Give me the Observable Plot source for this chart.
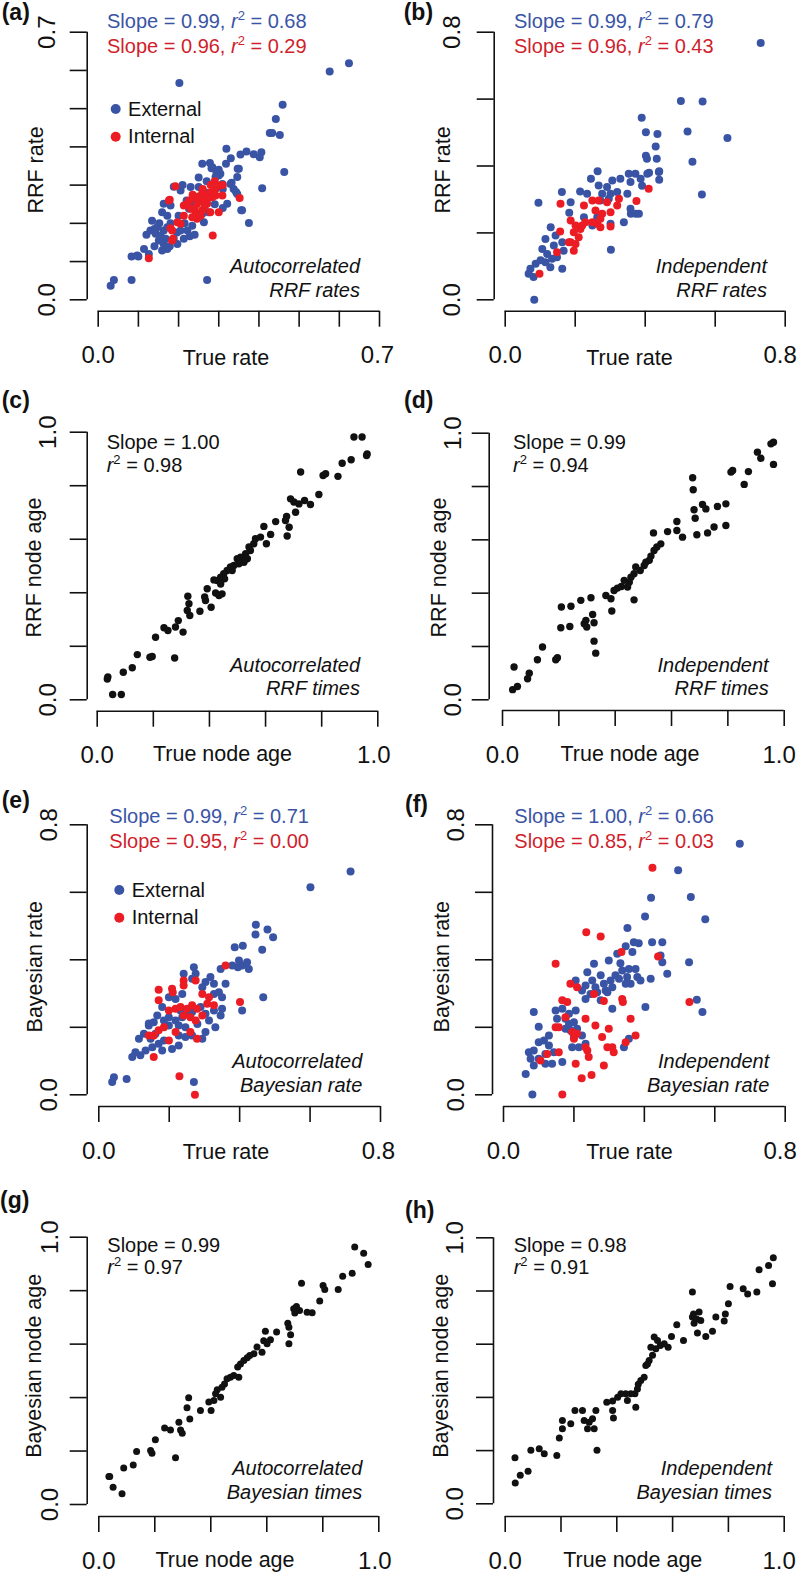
<!DOCTYPE html>
<html><head><meta charset="utf-8">
<script src="https://cdn.jsdelivr.net/npm/d3@7"></script>
<script src="https://cdn.jsdelivr.net/npm/@observablehq/plot@0.6"></script>
<style>
body{margin:0;background:#fff;}
#root{position:relative;width:797px;height:1573px;overflow:hidden;background:#fff;}
</style></head><body><div id="root"></div>
<script>
const FONT = '"Liberation Sans", Arial, Helvetica, sans-serif';
const BLUE = "#3a54a5", RED = "#ec1c24", RED_TXT = "#cf1f2d", INK = "#111";

// ---------- tick values ----------
const ticks07 = [0, 0.1, 0.2, 0.3, 0.4, 0.5, 0.6, 0.7];
const ticks08 = [0, 0.2, 0.4, 0.6, 0.8];
const ticks10 = [0, 0.2, 0.4, 0.6, 0.8, 1.0];

// ---------- (a) Autocorrelated RRF rates ----------
const aExt = [[0.202,0.567],[0.576,0.597],[0.624,0.619],[0.459,0.510],[0.442,0.473],[0.427,0.436],[0.433,0.436],[0.452,0.431],[0.319,0.395],[0.369,0.388],[0.354,0.380],[0.387,0.381],[0.406,0.386],[0.402,0.373],[0.259,0.356],[0.278,0.358],[0.318,0.356],[0.347,0.343],[0.282,0.344],[0.463,0.334],[0.294,0.334],[0.304,0.330],[0.292,0.321],[0.346,0.321],[0.332,0.306],[0.408,0.292],[0.343,0.282],[0.356,0.234],[0.375,0.201],[0.321,0.251],[0.271,0.052],[0.039,0.052],[0.031,0.037],[0.083,0.052],[0.114,0.133],[0.083,0.113],[0.100,0.113],[0.284,0.347],[0.350,0.343],[0.300,0.325],[0.309,0.303],[0.329,0.303],[0.337,0.290],[0.346,0.277],[0.358,0.234],[0.188,0.296],[0.205,0.286],[0.230,0.295],[0.250,0.295],[0.163,0.251],[0.180,0.247],[0.159,0.229],[0.172,0.220],[0.134,0.207],[0.147,0.190],[0.130,0.181],[0.143,0.173],[0.155,0.168],[0.163,0.181],[0.172,0.190],[0.151,0.155],[0.163,0.146],[0.172,0.133],[0.159,0.129],[0.188,0.160],[0.197,0.146],[0.213,0.160],[0.205,0.181],[0.222,0.181],[0.234,0.194],[0.246,0.216],[0.259,0.225],[0.275,0.229],[0.263,0.203],[0.097,0.116],[0.126,0.120],[0.226,0.238],[0.238,0.251],[0.220,0.260],[0.270,0.310],[0.250,0.320],[0.210,0.300],[0.290,0.250],[0.310,0.290],[0.330,0.370],[0.300,0.340],[0.260,0.260],[0.200,0.220],[0.180,0.200],[0.240,0.170],[0.140,0.140],[0.120,0.170],[0.310,0.240],[0.270,0.280],[0.152,0.200],[0.140,0.185],[0.168,0.160],[0.178,0.140],[0.215,0.200],[0.228,0.166],[0.196,0.176]];
const aInt = [[0.126,0.109],[0.186,0.160],[0.180,0.187],[0.178,0.262],[0.192,0.297],[0.197,0.203],[0.205,0.199],[0.285,0.168],[0.352,0.266],[0.213,0.247],[0.226,0.260],[0.238,0.268],[0.246,0.251],[0.255,0.260],[0.267,0.273],[0.279,0.281],[0.292,0.290],[0.304,0.299],[0.292,0.273],[0.271,0.251],[0.259,0.234],[0.242,0.229],[0.230,0.238],[0.246,0.212],[0.279,0.229],[0.300,0.229],[0.309,0.273],[0.259,0.281],[0.284,0.268],[0.176,0.260],[0.213,0.220],[0.234,0.216],[0.260,0.290],[0.250,0.270],[0.270,0.260],[0.240,0.240],[0.220,0.250],[0.290,0.310],[0.310,0.300],[0.280,0.300],[0.265,0.245],[0.255,0.220],[0.235,0.275],[0.184,0.181],[0.184,0.155]];

// ---------- (b) Independent RRF rates ----------
const bExt = [[0.730,0.768],[0.502,0.594],[0.564,0.593],[0.390,0.544],[0.521,0.503],[0.635,0.484],[0.402,0.501],[0.435,0.496],[0.430,0.458],[0.402,0.431],[0.405,0.422],[0.433,0.422],[0.535,0.413],[0.562,0.315],[0.440,0.384],[0.440,0.359],[0.411,0.380],[0.264,0.384],[0.245,0.362],[0.162,0.322],[0.214,0.324],[0.095,0.290],[0.130,0.217],[0.183,0.260],[0.302,0.150],[0.083,0.000],[0.359,0.257],[0.373,0.257],[0.306,0.357],[0.329,0.362],[0.353,0.377],[0.372,0.377],[0.387,0.362],[0.406,0.377],[0.439,0.382],[0.358,0.352],[0.391,0.341],[0.267,0.342],[0.291,0.337],[0.277,0.317],[0.301,0.317],[0.320,0.322],[0.349,0.317],[0.272,0.297],[0.296,0.302],[0.187,0.292],[0.358,0.272],[0.382,0.257],[0.339,0.232],[0.301,0.227],[0.115,0.182],[0.139,0.162],[0.106,0.152],[0.120,0.137],[0.134,0.123],[0.101,0.118],[0.087,0.108],[0.072,0.093],[0.067,0.078],[0.081,0.068],[0.115,0.112],[0.129,0.097],[0.148,0.127],[0.163,0.093],[0.167,0.147],[0.144,0.192],[0.163,0.172],[0.225,0.247],[0.249,0.222],[0.263,0.247],[0.234,0.317]];
const bInt = [[0.158,0.287],[0.410,0.332],[0.375,0.295],[0.225,0.282],[0.249,0.297],[0.267,0.297],[0.291,0.292],[0.325,0.302],[0.320,0.282],[0.258,0.267],[0.277,0.257],[0.301,0.262],[0.272,0.242],[0.263,0.227],[0.249,0.232],[0.301,0.219],[0.187,0.237],[0.201,0.222],[0.215,0.212],[0.196,0.202],[0.210,0.187],[0.187,0.172],[0.201,0.167],[0.220,0.222],[0.229,0.232],[0.157,0.204],[0.148,0.142],[0.182,0.172],[0.196,0.147],[0.098,0.078],[0.272,0.217]];

// ---------- (c) Autocorrelated RRF times ----------
const cPts = [[0.915,0.982],[0.944,0.982],[0.962,0.919],[0.960,0.913],[0.905,0.897],[0.873,0.884],[0.805,0.838],[0.814,0.845],[0.858,0.835],[0.725,0.851],[0.790,0.767],[0.760,0.730],[0.689,0.751],[0.701,0.739],[0.719,0.732],[0.707,0.701],[0.739,0.745],[0.675,0.685],[0.671,0.670],[0.684,0.645],[0.677,0.612],[0.636,0.666],[0.594,0.648],[0.618,0.618],[0.603,0.583],[0.582,0.608],[0.564,0.602],[0.558,0.583],[0.541,0.571],[0.546,0.558],[0.529,0.546],[0.511,0.533],[0.499,0.527],[0.535,0.527],[0.523,0.514],[0.505,0.508],[0.487,0.502],[0.475,0.496],[0.481,0.483],[0.463,0.483],[0.451,0.471],[0.440,0.458],[0.428,0.446],[0.416,0.448],[0.454,0.452],[0.440,0.433],[0.392,0.415],[0.422,0.399],[0.445,0.396],[0.434,0.390],[0.383,0.384],[0.386,0.371],[0.406,0.346],[0.323,0.387],[0.327,0.359],[0.321,0.334],[0.330,0.315],[0.366,0.331],[0.289,0.296],[0.238,0.269],[0.252,0.259],[0.279,0.272],[0.306,0.253],[0.208,0.234],[0.188,0.159],[0.196,0.162],[0.143,0.169],[0.276,0.156],[0.125,0.120],[0.093,0.103],[0.038,0.085],[0.036,0.078],[0.055,0.020],[0.086,0.020]];

// ---------- (d) Independent RRF times ----------
const dPts = [[0.962,0.966],[0.953,0.960],[0.905,0.929],[0.917,0.906],[0.962,0.883],[0.811,0.854],[0.817,0.860],[0.873,0.856],[0.858,0.808],[0.675,0.833],[0.677,0.788],[0.680,0.713],[0.710,0.733],[0.722,0.716],[0.684,0.681],[0.763,0.725],[0.793,0.735],[0.793,0.654],[0.751,0.648],[0.728,0.626],[0.690,0.619],[0.619,0.669],[0.586,0.631],[0.619,0.635],[0.639,0.610],[0.536,0.626],[0.562,0.585],[0.548,0.573],[0.538,0.560],[0.527,0.539],[0.521,0.523],[0.509,0.516],[0.503,0.504],[0.489,0.485],[0.473,0.498],[0.467,0.473],[0.456,0.460],[0.450,0.441],[0.432,0.448],[0.422,0.425],[0.444,0.423],[0.467,0.375],[0.408,0.419],[0.396,0.410],[0.385,0.379],[0.367,0.391],[0.388,0.333],[0.325,0.289],[0.296,0.298],[0.290,0.285],[0.299,0.273],[0.278,0.373],[0.243,0.351],[0.209,0.348],[0.207,0.270],[0.239,0.275],[0.314,0.383],[0.320,0.320],[0.325,0.220],[0.331,0.175],[0.142,0.198],[0.124,0.150],[0.189,0.150],[0.195,0.158],[0.095,0.100],[0.089,0.079],[0.041,0.123],[0.036,0.038],[0.053,0.050]];

// ---------- (e) Autocorrelated Bayesian rate ----------
const eExt = [[0.715,0.662],[0.601,0.615],[0.446,0.504],[0.479,0.490],[0.445,0.475],[0.495,0.467],[0.464,0.430],[0.467,0.289],[0.386,0.437],[0.409,0.442],[0.421,0.393],[0.395,0.378],[0.346,0.373],[0.270,0.038],[0.038,0.038],[0.043,0.052],[0.079,0.047],[0.270,0.378],[0.275,0.359],[0.241,0.359],[0.265,0.344],[0.317,0.349],[0.303,0.334],[0.294,0.319],[0.327,0.329],[0.360,0.329],[0.341,0.304],[0.350,0.289],[0.327,0.299],[0.237,0.299],[0.218,0.284],[0.199,0.289],[0.180,0.260],[0.166,0.235],[0.156,0.215],[0.142,0.205],[0.199,0.230],[0.218,0.220],[0.237,0.230],[0.265,0.245],[0.303,0.240],[0.327,0.250],[0.350,0.255],[0.346,0.235],[0.331,0.200],[0.313,0.220],[0.280,0.210],[0.246,0.200],[0.227,0.205],[0.199,0.205],[0.185,0.220],[0.114,0.166],[0.128,0.181],[0.147,0.166],[0.170,0.151],[0.152,0.141],[0.133,0.131],[0.104,0.126],[0.095,0.112],[0.118,0.117],[0.180,0.131],[0.208,0.136],[0.227,0.146],[0.246,0.171],[0.265,0.176],[0.303,0.186],[0.294,0.166],[0.407,0.250],[0.398,0.398],[0.407,0.383],[0.426,0.373],[0.379,0.383],[0.227,0.176],[0.289,0.260],[0.256,0.240],[0.232,0.250],[0.185,0.161],[0.161,0.181],[0.142,0.211]];
const eInt = [[0.273,0.000],[0.229,0.055],[0.401,0.275],[0.360,0.383],[0.170,0.311],[0.170,0.280],[0.208,0.314],[0.241,0.339],[0.275,0.339],[0.241,0.324],[0.294,0.299],[0.313,0.289],[0.308,0.270],[0.327,0.265],[0.199,0.250],[0.218,0.255],[0.232,0.260],[0.251,0.255],[0.265,0.265],[0.279,0.255],[0.241,0.235],[0.260,0.230],[0.275,0.220],[0.294,0.235],[0.170,0.191],[0.156,0.176],[0.142,0.176],[0.185,0.200],[0.218,0.186],[0.260,0.186],[0.279,0.166],[0.199,0.161],[0.156,0.112],[0.210,0.304]];

// ---------- (f) Independent Bayesian rate ----------
const fExt = [[0.671,0.744],[0.496,0.665],[0.532,0.586],[0.419,0.584],[0.573,0.520],[0.402,0.528],[0.352,0.494],[0.527,0.393],[0.549,0.282],[0.565,0.245],[0.082,0.001],[0.370,0.452],[0.384,0.449],[0.347,0.440],[0.422,0.452],[0.451,0.452],[0.366,0.423],[0.323,0.418],[0.299,0.398],[0.446,0.413],[0.451,0.393],[0.465,0.359],[0.418,0.344],[0.332,0.390],[0.337,0.368],[0.356,0.373],[0.375,0.373],[0.351,0.349],[0.380,0.349],[0.361,0.329],[0.389,0.339],[0.318,0.354],[0.304,0.339],[0.276,0.354],[0.238,0.363],[0.252,0.339],[0.285,0.329],[0.261,0.319],[0.290,0.309],[0.233,0.324],[0.247,0.299],[0.266,0.304],[0.295,0.304],[0.309,0.319],[0.276,0.280],[0.309,0.255],[0.403,0.260],[0.257,0.388],[0.328,0.344],[0.347,0.329],[0.205,0.339],[0.223,0.309],[0.233,0.284],[0.086,0.245],[0.100,0.202],[0.148,0.250],[0.167,0.255],[0.152,0.225],[0.176,0.225],[0.186,0.210],[0.200,0.215],[0.190,0.191],[0.176,0.196],[0.209,0.196],[0.200,0.171],[0.223,0.176],[0.214,0.141],[0.195,0.141],[0.233,0.151],[0.129,0.176],[0.115,0.161],[0.100,0.156],[0.129,0.146],[0.086,0.131],[0.072,0.126],[0.077,0.107],[0.100,0.107],[0.119,0.121],[0.143,0.126],[0.119,0.092],[0.138,0.092],[0.167,0.097],[0.086,0.087],[0.063,0.062],[0.342,0.141],[0.356,0.166],[0.205,0.250],[0.186,0.240]];
const fInt = [[0.423,0.673],[0.235,0.482],[0.276,0.469],[0.148,0.388],[0.335,0.423],[0.439,0.410],[0.190,0.329],[0.209,0.319],[0.167,0.280],[0.181,0.275],[0.257,0.299],[0.285,0.278],[0.337,0.284],[0.339,0.275],[0.176,0.230],[0.233,0.225],[0.148,0.200],[0.157,0.200],[0.195,0.186],[0.209,0.181],[0.261,0.205],[0.299,0.196],[0.361,0.225],[0.280,0.171],[0.200,0.166],[0.375,0.176],[0.233,0.141],[0.238,0.131],[0.347,0.156],[0.295,0.141],[0.309,0.141],[0.313,0.126],[0.242,0.112],[0.157,0.126],[0.124,0.121],[0.105,0.102],[0.205,0.092],[0.285,0.087],[0.250,0.059],[0.222,0.049],[0.167,0.001],[0.528,0.275]];

// ---------- (g) Autocorrelated Bayesian times ----------
const gPts = [[0.914,0.963],[0.946,0.940],[0.962,0.898],[0.905,0.865],[0.871,0.854],[0.855,0.804],[0.801,0.819],[0.807,0.804],[0.789,0.761],[0.724,0.828],[0.762,0.717],[0.744,0.719],[0.717,0.726],[0.706,0.741],[0.696,0.732],[0.700,0.716],[0.675,0.678],[0.679,0.663],[0.685,0.635],[0.679,0.601],[0.635,0.645],[0.595,0.648],[0.613,0.616],[0.589,0.613],[0.601,0.601],[0.583,0.570],[0.565,0.589],[0.554,0.564],[0.539,0.557],[0.530,0.549],[0.518,0.539],[0.506,0.526],[0.496,0.514],[0.500,0.476],[0.482,0.483],[0.470,0.476],[0.458,0.470],[0.449,0.451],[0.440,0.439],[0.423,0.429],[0.417,0.414],[0.435,0.401],[0.411,0.389],[0.401,0.352],[0.393,0.383],[0.363,0.352],[0.321,0.399],[0.315,0.362],[0.325,0.320],[0.286,0.308],[0.298,0.267],[0.292,0.279],[0.235,0.286],[0.256,0.279],[0.202,0.242],[0.190,0.192],[0.185,0.202],[0.135,0.198],[0.123,0.148],[0.089,0.137],[0.036,0.105],[0.039,0.105],[0.051,0.065],[0.083,0.040],[0.274,0.175]];

// ---------- (h) Independent Bayesian times ----------
const hPts = [[0.961,0.925],[0.944,0.896],[0.910,0.880],[0.958,0.827],[0.902,0.796],[0.869,0.789],[0.853,0.808],[0.806,0.817],[0.800,0.752],[0.789,0.714],[0.785,0.687],[0.755,0.702],[0.743,0.649],[0.719,0.629],[0.689,0.642],[0.671,0.796],[0.675,0.714],[0.686,0.695],[0.701,0.689],[0.677,0.679],[0.695,0.721],[0.671,0.702],[0.639,0.614],[0.615,0.673],[0.596,0.629],[0.584,0.589],[0.570,0.602],[0.556,0.595],[0.534,0.627],[0.546,0.614],[0.540,0.583],[0.522,0.589],[0.528,0.558],[0.516,0.539],[0.510,0.526],[0.504,0.520],[0.498,0.476],[0.486,0.464],[0.477,0.449],[0.474,0.432],[0.465,0.414],[0.450,0.414],[0.438,0.388],[0.468,0.363],[0.432,0.414],[0.415,0.414],[0.403,0.401],[0.385,0.386],[0.385,0.351],[0.388,0.323],[0.364,0.382],[0.325,0.351],[0.313,0.320],[0.319,0.282],[0.301,0.307],[0.295,0.282],[0.283,0.313],[0.277,0.351],[0.329,0.201],[0.250,0.351],[0.235,0.301],[0.205,0.313],[0.205,0.282],[0.194,0.247],[0.185,0.182],[0.140,0.188],[0.122,0.207],[0.092,0.201],[0.082,0.122],[0.054,0.107],[0.036,0.078],[0.035,0.173]];

// ---------- texts ----------
const panelLetters = ["(a)","(b)","(c)","(d)","(e)","(f)","(g)","(h)"];

// ---------- layout (pixel geometry of each panel) ----------
const panels = [
  {id:"a", left:0,   top:0,    w:397, h:390, xTicks:ticks07, yTicks:ticks07, ext:aExt, int:aInt, yAxisX:86.7, xAxisY:310.7, xr:[97.7,379],  yr:[299.3,31.7], ylabDx:-40, endDx:-2, r:4},
  {id:"b", left:397, top:0,    w:400, h:390, xTicks:ticks08, yTicks:ticks08, ext:bExt, int:bInt, yAxisX:96.7, xAxisY:310.7, xr:[107.7,387.7], yr:[299.3,31.7], ylabDx:-42, endDx:-5, r:4},
  {id:"c", left:0,   top:390,  w:397, h:390, xTicks:ticks10, yTicks:ticks10, pts:cPts, yAxisX:86.7, xAxisY:320.7, xr:[96.7,377.3], yr:[309.3,41.7], ylabDx:-39, endDx:-4, r:3.7},
  {id:"d", left:397, top:390,  w:400, h:390, xTicks:ticks10, yTicks:ticks10, pts:dPts, yAxisX:91.7, xAxisY:320,   xr:[105,386.7],   yr:[309.3,42.7], ylabDx:-36, endDx:-5, r:3.7},
  {id:"e", left:0,   top:780,  w:397, h:400, xTicks:ticks08, yTicks:ticks08, ext:eExt, int:eInt, yAxisX:86.7, xAxisY:326,   xr:[98.3,380],    yr:[314.3,44.3], ylabDx:-38, endDx:-2, r:4},
  {id:"f", left:397, top:780,  w:400, h:400, xTicks:ticks08, yTicks:ticks08, ext:fExt, int:fInt, yAxisX:95,   xAxisY:326,   xr:[106,387.7],   yr:[314.3,44.3], ylabDx:-36, endDx:-5, r:4},
  {id:"g", left:0,   top:1180, w:397, h:393, xTicks:ticks10, yTicks:ticks10, pts:gPts, yAxisX:86.7, xAxisY:336,   xr:[98.3,378.3],  yr:[324,56.7],   ylabDx:-37, endDx:-4, r:3.5},
  {id:"h", left:397, top:1180, w:400, h:393, xTicks:ticks10, yTicks:ticks10, pts:hPts, yAxisX:96,   xAxisY:336,   xr:[107.7,386.7], yr:[323.3,57.3], ylabDx:-38, endDx:-5, r:3.5}
];

const root = document.getElementById("root");
const fmt = d => d.toFixed(1);

function makePanel(p) {
  const xEnd = p.xTicks[p.xTicks.length - 1], yEnd = p.yTicks[p.yTicks.length - 1];
  const marks = [
    Plot.ruleY([0], {x1: 0, x2: xEnd, dy: p.xAxisY - p.yr[0], stroke: INK, strokeWidth: 1.6}),
    Plot.ruleX([0], {y1: 0, y2: yEnd, dx: p.yAxisX - p.xr[0], stroke: INK, strokeWidth: 1.6}),
    Plot.axisX({ticks: p.xTicks, tickSize: 16, tickFormat: () => "", label: null, stroke: INK, strokeWidth: 1.6}),
    Plot.axisY({ticks: p.yTicks, tickSize: 17, tickFormat: () => "", label: null, stroke: INK, strokeWidth: 1.6}),
    Plot.text([0], {x: d => d, text: fmt, frameAnchor: "bottom", lineAnchor: "top", dy: 35, fontSize: 24, fill: INK}),
    Plot.text([xEnd], {x: d => d, text: fmt, frameAnchor: "bottom", lineAnchor: "top", dy: 35, dx: p.endDx, fontSize: 24, fill: INK}),
    Plot.text([0, yEnd], {y: d => d, text: fmt, frameAnchor: "left", rotate: -90, dx: p.ylabDx, fontSize: 24, textAnchor: "middle", lineAnchor: "middle", fill: INK})
  ];
  if (p.pts) {
    marks.push(Plot.dot(p.pts, {x: d => d[0], y: d => d[1], r: p.r, fill: INK, stroke: "none"}));
  } else {
    marks.push(Plot.dot(p.ext, {x: d => d[0], y: d => d[1], r: p.r, fill: BLUE, stroke: "none"}));
    marks.push(Plot.dot(p.int, {x: d => d[0], y: d => d[1], r: p.r, fill: RED, stroke: "none"}));
  }
  const svg = Plot.plot({
    width: p.w, height: p.h,
    marginLeft: p.yAxisX, marginBottom: p.h - p.xAxisY, marginTop: p.yr[1], marginRight: p.w - p.xr[1],
    x: {domain: [0, xEnd], range: p.xr},
    y: {domain: [0, yEnd], range: p.yr},
    style: {fontFamily: FONT, color: INK, background: "transparent", overflow: "visible"},
    marks
  });
  svg.style.position = "absolute";
  svg.style.left = p.left + "px";
  svg.style.top = p.top + "px";
  root.appendChild(svg);
}
panels.forEach(makePanel);

// ---------- overlay text (titles, stats, legends, annotations) ----------
const ov = d3.select(root).append("svg")
  .attr("width", 797).attr("height", 1573)
  .style("position", "absolute").style("left", 0).style("top", 0)
  .style("font-family", FONT).style("white-space", "pre");

function label(x, y, s, o = {}) {
  const t = ov.append("text").attr("x", x).attr("y", y).text(s)
    .attr("font-size", o.size || 20).attr("fill", o.fill || INK);
  if (o.bold) t.attr("font-weight", "bold");
  if (o.italic) t.attr("font-style", "italic");
  if (o.anchor) t.attr("text-anchor", o.anchor);
  return t;
}
function stat(x, y, fill, slope, r2) {
  const t = ov.append("text").attr("x", x).attr("y", y).attr("font-size", 20).attr("fill", fill);
  t.append("tspan").text(`Slope = ${slope}, `);
  t.append("tspan").attr("font-style", "italic").text("r");
  t.append("tspan").attr("font-size", 13).attr("dy", -8).text("2");
  t.append("tspan").attr("dy", 8).text(` = ${r2}`);
}
function stat2(x, y, slope, r2) {
  label(x, y, `Slope = ${slope}`);
  const t = ov.append("text").attr("x", x).attr("y", y + 22.4).attr("font-size", 20).attr("fill", INK);
  t.append("tspan").attr("font-style", "italic").text("r");
  t.append("tspan").attr("font-size", 13).attr("dy", -8).text("2");
  t.append("tspan").attr("dy", 8).text(` = ${r2}`);
}
function ytitle(x, y, s) {
  ov.append("text").attr("transform", `translate(${x},${y}) rotate(-90)`)
    .attr("text-anchor", "middle").attr("font-size", 21.5).attr("fill", INK).text(s);
}
function legend(x, y) {
  ov.append("circle").attr("cx", x).attr("cy", y).attr("r", 5).attr("fill", BLUE);
  label(x + 12.4, y + 6.5, "External");
  ov.append("circle").attr("cx", x).attr("cy", y + 27.7).attr("r", 5).attr("fill", RED);
  label(x + 12.4, y + 34, "Internal");
}

// panel letters
const letterPos = [[1.7,20],[403.7,20],[1.7,408],[404,408],[1.7,808],[405,812],[0,1208],[405,1218]];
panelLetters.forEach((s, i) => label(letterPos[i][0], letterPos[i][1], s, {size: 23, bold: true}));

// (a)
stat(107, 28, BLUE, "0.99", "0.68");
stat(107, 53, RED_TXT, "0.96", "0.29");
legend(115.7, 109);
label(360, 273, "Autocorrelated", {italic: true, anchor: "end"});
label(360, 297, "RRF rates", {italic: true, anchor: "end"});
label(226, 365, "True rate", {size: 21.5, anchor: "middle"});
ytitle(43, 170, "RRF rate");
// (b)
stat(514, 28, BLUE, "0.99", "0.79");
stat(514, 53, RED_TXT, "0.96", "0.43");
label(767, 273, "Independent", {italic: true, anchor: "end"});
label(767, 297, "RRF rates", {italic: true, anchor: "end"});
label(629.5, 365, "True rate", {size: 21.5, anchor: "middle"});
ytitle(450, 170, "RRF rate");
// (c)
stat2(106.7, 449.3, "1.00", "0.98");
label(360, 671.7, "Autocorrelated", {italic: true, anchor: "end"});
label(360, 695, "RRF times", {italic: true, anchor: "end"});
label(222.5, 761, "True node age", {size: 21.5, anchor: "middle"});
ytitle(41, 567.5, "RRF node age");
// (d)
stat2(513, 449.3, "0.99", "0.94");
label(768.7, 671.7, "Independent", {italic: true, anchor: "end"});
label(768.7, 695, "RRF times", {italic: true, anchor: "end"});
label(630, 761, "True node age", {size: 21.5, anchor: "middle"});
ytitle(446, 567.5, "RRF node age");
// (e)
stat(109.3, 823.3, BLUE, "0.99", "0.71");
stat(109.3, 847.7, RED_TXT, "0.95", "0.00");
legend(119.3, 890);
label(362.3, 1068.3, "Autocorrelated", {italic: true, anchor: "end"});
label(362.3, 1092.3, "Bayesian rate", {italic: true, anchor: "end"});
label(226, 1159, "True rate", {size: 21.5, anchor: "middle"});
ytitle(42, 966.7, "Bayesian  rate");
// (f)
stat(514.3, 823.3, BLUE, "1.00", "0.66");
stat(514.3, 847.7, RED_TXT, "0.85", "0.03");
label(769.3, 1068.3, "Independent", {italic: true, anchor: "end"});
label(769.3, 1092.3, "Bayesian rate", {italic: true, anchor: "end"});
label(629.5, 1159, "True rate", {size: 21.5, anchor: "middle"});
ytitle(449, 966.7, "Bayesian  rate");
// (g)
stat2(107.3, 1251.7, "0.99", "0.97");
label(362.3, 1475, "Autocorrelated", {italic: true, anchor: "end"});
label(362.3, 1499.3, "Bayesian times", {italic: true, anchor: "end"});
label(225, 1566.7, "True node age", {size: 21.5, anchor: "middle"});
ytitle(41, 1365.8, "Bayesian  node  age");
// (h)
stat2(513.7, 1251.7, "0.98", "0.91");
label(772, 1475, "Independent", {italic: true, anchor: "end"});
label(772, 1499.3, "Bayesian times", {italic: true, anchor: "end"});
label(632.8, 1566.7, "True node age", {size: 21.5, anchor: "middle"});
ytitle(448, 1365.8, "Bayesian  node  age");
</script>
</body></html>
